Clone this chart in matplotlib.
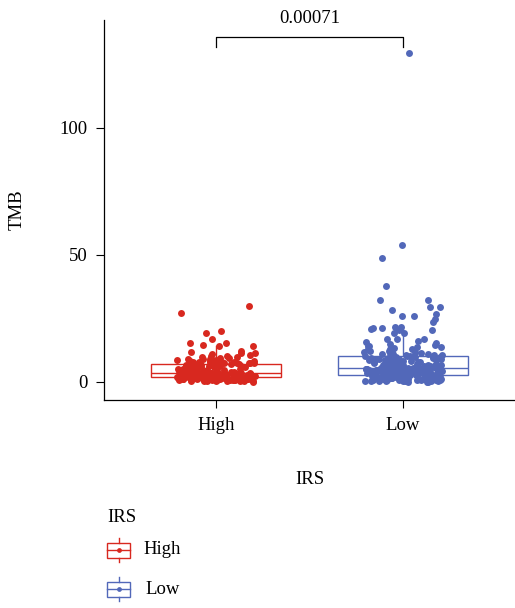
import numpy as np
import matplotlib
matplotlib.use("Agg")
import matplotlib.pyplot as plt
from matplotlib.patches import Rectangle

plt.rcParams["font.family"] = ["Liberation Serif", "DejaVu Serif"]

# Groups and colours
groups = ["High", "Low"]
colors = ["#D8281F", "#5268B9"]
p_value = "0.00071"

# TMB values (High IRS group)
tmb_high = [
    30.0, 27.3, 19.9, 19.4, 16.9, 15.3, 15.2, 14.7, 14.2, 14.1, 12.2, 11.8, 11.5, 11.4, 11.0,
    10.6, 10.4, 10.1, 9.9, 9.7, 9.6, 9.3, 9.2, 9.0, 8.9, 8.7, 8.6, 8.4, 8.3, 8.2,
    8.0, 7.9, 7.9, 7.8, 7.7, 7.6, 7.5, 7.5, 7.4, 7.3, 7.3, 7.2, 7.2, 7.1, 7.1,
    7.0, 6.9, 6.7, 6.7, 6.5, 6.4, 6.4, 6.2, 6.1, 6.0, 5.9, 5.7, 5.7, 5.5, 5.4,
    5.3, 5.1, 5.0, 5.0, 4.9, 4.7, 4.6, 4.6, 4.5, 4.4, 4.3, 4.2, 4.2, 4.1, 4.0,
    4.0, 3.9, 3.9, 3.8, 3.8, 3.7, 3.7, 3.6, 3.6, 3.6, 3.5, 3.5, 3.5, 3.5, 3.5,
    3.4, 3.4, 3.3, 3.3, 3.2, 3.2, 3.1, 3.1, 3.0, 3.0, 3.0, 2.9, 2.9, 2.8, 2.8,
    2.8, 2.7, 2.7, 2.6, 2.6, 2.6, 2.5, 2.5, 2.5, 2.4, 2.4, 2.4, 2.3, 2.3, 2.3,
    2.2, 2.2, 2.2, 2.1, 2.1, 2.1, 2.1, 2.0, 2.0, 2.0, 2.0, 2.0, 2.0, 2.0, 2.0,
    1.9, 1.9, 1.8, 1.8, 1.8, 1.7, 1.7, 1.6, 1.6, 1.6, 1.5, 1.5, 1.5, 1.4, 1.4,
    1.4, 1.3, 1.3, 1.3, 1.2, 1.2, 1.2, 1.1, 1.1, 1.0, 1.0, 1.0, 0.9, 0.9, 0.9,
    0.8, 0.8, 0.7, 0.7, 0.6, 0.6, 0.5, 0.5, 0.4, 0.4, 0.3, 0.3, 0.2, 0.2, 0.1,
]

# TMB values (Low IRS group)
tmb_low = [
    129.5, 54.1, 49.0, 37.8, 32.4, 32.3, 29.6, 29.5, 28.3, 26.8, 26.0, 26.0, 24.8, 23.6, 21.8,
    21.7, 21.3, 21.2, 20.8, 20.5, 20.4, 19.4, 19.4, 17.0, 17.0, 16.8, 16.2, 15.7, 15.4, 14.9,
    14.6, 14.2, 14.0, 13.9, 13.6, 13.3, 13.1, 13.0, 12.8, 12.5, 12.3, 12.1, 11.9, 11.7, 11.5,
    11.3, 11.2, 11.0, 10.9, 10.7, 10.6, 10.5, 10.4, 10.3, 10.2, 10.1, 10.0, 9.9, 9.9,
    9.7, 9.6, 9.5, 9.4, 9.3, 9.2, 9.1, 9.0, 8.9, 8.8, 8.7, 8.6, 8.5, 8.4, 8.3,
    8.2, 8.1, 8.0, 7.9, 7.8, 7.7, 7.6, 7.5, 7.4, 7.3, 7.2, 7.1, 7.0, 6.9, 6.8,
    6.7, 6.6, 6.5, 6.4, 6.3, 6.2, 6.2, 6.1, 6.0, 6.0, 5.9, 5.8, 5.8, 5.7, 5.7,
    5.6, 5.6, 5.6, 5.5, 5.5, 5.5, 5.5,
    5.5, 5.4, 5.4, 5.3, 5.3, 5.2, 5.2, 5.1, 5.1, 5.0, 5.0, 4.9, 4.9, 4.8, 4.8,
    4.7, 4.7, 4.6, 4.6, 4.5, 4.5, 4.4, 4.4, 4.3, 4.3, 4.2, 4.2, 4.1, 4.1, 4.0,
    4.0, 3.9, 3.9, 3.8, 3.8, 3.7, 3.7, 3.6, 3.6, 3.5, 3.5, 3.4, 3.4, 3.3, 3.3,
    3.2, 3.2, 3.1, 3.1, 3.0, 3.0, 2.9, 2.9, 2.8, 2.8,
    2.7, 2.7, 2.6, 2.6, 2.5, 2.5, 2.4, 2.4, 2.3, 2.3, 2.2, 2.2, 2.1, 2.1, 2.0,
    2.0, 1.9, 1.9, 1.8, 1.8, 1.7, 1.7, 1.6, 1.6, 1.5, 1.5, 1.4, 1.4, 1.3, 1.3,
    1.2, 1.2, 1.1, 1.1, 1.0, 1.0, 0.9, 0.9, 0.8, 0.8, 0.7, 0.7, 0.6, 0.6, 0.5,
    0.5, 0.4, 0.4, 0.3, 0.3, 0.2, 0.2, 0.1, 0.1, 0.0,
]

data = [tmb_high, tmb_low]
fs = 13.5

fig = plt.figure(figsize=(5.15, 6.08), dpi=100)
ax = fig.add_axes([104 / 515, 1 - 400 / 608, 1 - 104 / 515, 380 / 608])

# boxplots (no fill, no caps, no outlier markers)
for i, (vals, c) in enumerate(zip(data, colors)):
    ax.boxplot(vals, positions=[i + 1], widths=0.7, showcaps=False, showfliers=False,
               whis=1.5, patch_artist=True,
               boxprops=dict(facecolor="none", edgecolor=c, linewidth=1.0),
               medianprops=dict(color=c, linewidth=1.0),
               whiskerprops=dict(color=c, linewidth=1.0))

# jittered points (deterministic hash spread, so the run is reproducible)
for i, (vals, c) in enumerate(zip(data, colors)):
    k = np.arange(len(vals)) + 1 + 500 * i
    u = (np.sin(k * 12.9898) * 43758.5453) % 1
    jit = (u - 0.5) * 0.42
    ax.scatter(i + 1 + jit, vals, s=25, color=c, linewidths=0, zorder=3)

ax.set_xlim(0.4, 2.6)
ax.set_ylim(-7.1, 142.5)
ax.set_xticks([1, 2])
ax.set_xticklabels(groups)
ax.set_yticks([0, 50, 100])
ax.tick_params(labelsize=fs, length=6, width=0.8, colors="black", pad=6)
ax.spines["top"].set_visible(False)
ax.spines["right"].set_visible(False)
for s in ["left", "bottom"]:
    ax.spines[s].set_linewidth(0.9)
ax.set_ylabel("TMB", fontsize=fs, labelpad=24)
ax.set_xlabel("IRS", fontsize=fs, labelpad=27)

# significance bracket
ax.plot([1, 1, 2, 2], [132, 135.8, 135.8, 132], color="black", lw=0.9, clip_on=False)
ax.text(1.5, 142.9, p_value, ha="center", va="center", fontsize=fs, clip_on=False)

# legend drawn in pixel coordinates
lg = fig.add_axes([0, 0, 1, 1], zorder=-1)
lg.set_xlim(0, 515)
lg.set_ylim(608, 0)
lg.axis("off")
lg.text(107, 517, "IRS", ha="left", va="center", fontsize=fs)
for (lab, c, yc, xl) in [(groups[0], colors[0], 550, 143), (groups[1], colors[1], 589, 145)]:
    lg.add_patch(Rectangle((107, yc - 7.5), 23, 15, facecolor="none", edgecolor=c, lw=1.0))
    lg.plot([107, 130], [yc, yc], color=c, lw=1.0)
    lg.plot([118.5, 118.5], [yc - 12, yc - 7.5], color=c, lw=1.0)
    lg.plot([118.5, 118.5], [yc + 7.5, yc + 12], color=c, lw=1.0)
    lg.scatter([118.5], [yc], s=12, color=c, linewidths=0)
    lg.text(xl, yc, lab, ha="left", va="center", fontsize=fs)

fig.savefig("out.png", dpi=100)
